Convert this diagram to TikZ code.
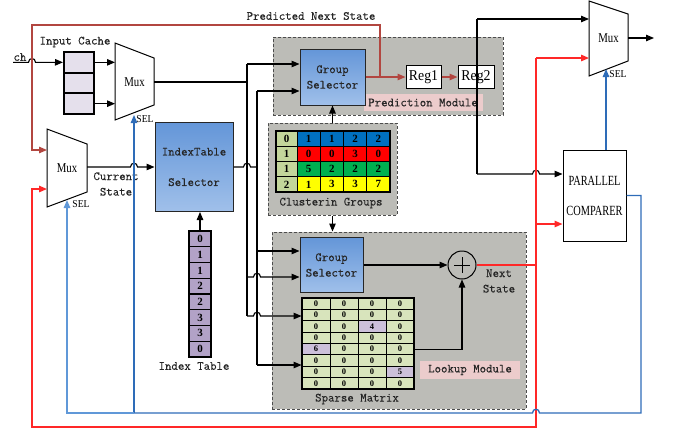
\documentclass[tikz,border=0pt]{standalone}
\usepackage{fontspec}
\setmainfont{Liberation Serif}
\newfontfamily\labelmono[FakeBold=0.35]{Latin Modern Mono}
\newfontfamily\narrowserif[FakeStretch=0.8]{Liberation Serif}
\newfontfamily\pcserif[FakeStretch=0.74]{Liberation Serif}
\newfontfamily\regserif[FakeStretch=0.92]{Liberation Serif}
\usetikzlibrary{arrows.meta}

\definecolor{gsTop}{RGB}{100,150,216}
\definecolor{gsBot}{RGB}{160,192,234}
\definecolor{panel}{RGB}{188,188,183}
\definecolor{tagpink}{RGB}{236,204,204}
\definecolor{predline}{RGB}{178,70,64}
\definecolor{nsred}{RGB}{255,40,40}
\definecolor{selblue}{RGB}{46,108,184}
\definecolor{selblueb}{RGB}{96,152,216}
\definecolor{cacheFill}{RGB}{229,224,236}
\definecolor{idxFill}{RGB}{178,162,199}
\definecolor{spFill}{RGB}{216,228,188}
\definecolor{spHi}{RGB}{204,192,218}
\definecolor{cgKey}{RGB}{195,214,155}
\definecolor{cgBlue}{RGB}{0,112,192}
\definecolor{cgRed}{RGB}{255,0,0}
\definecolor{cgGreen}{RGB}{0,176,80}
\definecolor{cgYellow}{RGB}{255,255,0}

\begin{document}
\begin{tikzpicture}[x=1pt,y=-1pt,
  wire/.style={draw=black,line width=1.1pt},
  predwire/.style={draw=predline,line width=1.3pt},
  redwire/.style={draw=nsred,line width=1.4pt},
  bluewire/.style={draw=selblue,line width=1.3pt},
  bluewireb/.style={draw=selblueb,line width=1.3pt},
  arrowhd/.style={-{Triangle[length=8pt,width=6.5pt]}},
  mono/.style={font=\fontsize{12.5}{15.5}\selectfont\labelmono,text=black!85},
  panelbox/.style={draw=black!70,dash pattern=on 3pt off 2pt,line width=1pt,fill=panel,inner sep=0pt},
  tagbox/.style={fill=tagpink,inner sep=0pt,mono},
  selbox/.style={draw=black!85,line width=1pt,top color=gsTop,bottom color=gsBot,inner sep=0pt,align=center,mono},
  regbox/.style={draw=black,line width=1pt,fill=white,inner sep=0pt,minimum width=35pt,minimum height=23pt,font=\fontsize{15}{17}\selectfont\regserif},
  muxshape/.style={draw=black,line width=1pt,fill=white},
  muxlbl/.style={font=\fontsize{13.5}{15}\selectfont\narrowserif,inner sep=0pt},
  sellbl/.style={font=\fontsize{10.5}{12}\selectfont\regserif,inner sep=0pt},
  cgcell/.style={draw=black,line width=1pt,inner sep=0pt,minimum height=15.25pt,font=\fontsize{11}{12}\selectfont\bfseries},
  spcell/.style={draw=black,line width=0.9pt,inner sep=0pt,minimum width=28pt,minimum height=11.375pt,font=\fontsize{8.5}{9}\selectfont\bfseries},
  ixcell/.style={draw=black,line width=1.4pt,fill=idxFill,inner sep=0pt,minimum width=22pt,minimum height=15.75pt,font=\fontsize{11}{12}\selectfont\bfseries},
  cachecell/.style={draw=black,line width=2pt,fill=cacheFill,inner sep=0pt,minimum width=30pt,minimum height=20.67pt},
  jumpover/.style 2 args={insert path={-- (#1-3.5,#2) .. controls (#1-3.5,#2-5) and (#1+3.5,#2-5) .. (#1+3.5,#2)}},
  jumpoverl/.style 2 args={insert path={-- (#1+3.5,#2) .. controls (#1+3.5,#2-5) and (#1-3.5,#2-5) .. (#1-3.5,#2)}},
]
\useasboundingbox (0,0) rectangle (675,429);

% ---------- module panels ----------
\node[panelbox,minimum width=230pt,minimum height=78pt] (predpanel) at (388,76) {};
\node[panelbox,minimum width=129pt,minimum height=92pt] (cgpanel) at (332.5,169) {};
\node[panelbox,minimum width=254pt,minimum height=177pt] (lookpanel) at (399,320.5) {};

\node[tagbox,minimum width=119pt,minimum height=17pt] (predtag) at (423,102.5) {Prediction Module};
\node[tagbox,minimum width=100pt,minimum height=18pt] (looktag) at (470,370) {Lookup Module};

% ---------- selectors and registers ----------
\node[selbox,minimum width=65pt,minimum height=56pt] (gsA) at (332.5,77) {Group\\Selector};
\node[selbox,minimum width=63pt,minimum height=55pt] (gsB) at (331.5,265) {Group\\Selector};
\node[selbox,minimum width=78pt,minimum height=89pt] (idxsel) at (194,167) {IndexTable\\[15pt]Selector};
\node[regbox] (reg1) at (423.5,77) {Reg1};
\node[regbox,minimum width=36pt] (reg2) at (476,77) {Reg2};
\node[draw=black,line width=1pt,fill=white,inner sep=0pt,minimum width=63pt,minimum height=91pt,align=center,font=\fontsize{14}{15}\selectfont\pcserif] (pc) at (594.5,195.5) {PARALLEL\\[15pt]COMPARER};
\node[draw=black,line width=1pt,circle,minimum size=28pt,inner sep=0pt] (plus) at (462,265) {};
\draw[line width=1pt] (plus.center) ++(-8,0) -- ++(16,0) (plus.center) ++(0,-8) -- ++(0,16);

% ---------- multiplexers ----------
\draw[muxshape] (115,43) -- (154,58) -- (154,105) -- (115,120) -- cycle;
\node[muxlbl] (muxA) at (134.5,82) {Mux};
\coordinate (muxA-in) at (115,82);
\coordinate (muxA-out) at (154,82);
\coordinate (muxA-sel) at (134,115);
\node[sellbl] (selA) at (145,119) {SEL};

\draw[muxshape] (47,129) -- (87,144) -- (87,192) -- (47,207) -- cycle;
\node[muxlbl] (muxB) at (67,168) {Mux};
\coordinate (muxB-in1) at (47,150);
\coordinate (muxB-in2) at (47,189);
\coordinate (muxB-out) at (87,167);
\coordinate (muxB-sel) at (67,200);
\node[sellbl] (selB) at (81,204) {SEL};

\draw[muxshape] (589,1) -- (628,14) -- (628,61) -- (589,76) -- cycle;
\node[muxlbl] (muxC) at (608.5,38) {Mux};
\coordinate (muxC-in1) at (589,19);
\coordinate (muxC-in2) at (589,58);
\coordinate (muxC-out) at (628,38);
\coordinate (muxC-sel) at (606,69);
\coordinate (outC) at (654,38);
\node[sellbl] (selC) at (618,74) {SEL};

% ---------- input cache ----------
\foreach \i in {1,2,3}
  \node[cachecell] (cc-\i) at (79,{52+20.67*(\i-0.5)}) {};
\node[mono,inner sep=0pt] (cachelbl) at (75,42) {Input Cache};
\node[mono,inner sep=0pt] (chlbl) at (20,57) {ch};

% ---------- index table ----------
\foreach \v [count=\i] in {0,1,1,2,2,3,3,0}
  \node[ixcell] (ix-\i) at (200,{231+15.75*(\i-0.5)}) {\v};
\node[mono,inner sep=0pt] (ixlbl) at (194,366) {Index Table};

% ---------- clustering groups ----------
\foreach \r/\k/\a/\b/\c/\d/\col in {1/0/1/1/2/2/cgBlue,2/1/0/0/3/0/cgRed,3/1/5/2/2/2/cgGreen,4/2/1/3/3/7/cgYellow}{
  \node[cgcell,fill=cgKey,minimum width=21pt] (cg-\r-0) at (286.5,{131+15.25*(\r-0.5)}) {\k};
  \foreach \v [count=\j] in {\a,\b,\c,\d}
    \node[cgcell,fill=\col,minimum width=23.25pt] (cg-\r-\j) at ({297+23.25*(\j-0.5)},{131+15.25*(\r-0.5)}) {\v};
}
\draw[line width=1.6pt] (276,131) rectangle (390,192);
\node[mono,inner sep=0pt] (cglbl) at (331,203) {Clusterin Groups};

% ---------- sparse matrix ----------
\foreach \r/\vals in {1/{0,0,0,0},2/{0,0,0,0},3/{0,0,4,0},4/{0,0,0,0},5/{6,0,0,0},6/{0,0,0,0},7/{0,0,0,5},8/{0,0,0,0}}{
  \foreach \v [count=\c] in \vals {
    \ifnum\v=0 \def\cellcol{spFill}\else\def\cellcol{spHi}\fi
    \node[spcell,fill=\cellcol] (sp-\r-\c) at ({302+28*(\c-0.5)},{298+11.375*(\r-0.5)}) {\v};
  }
}
\draw[line width=1.5pt] (302,298) rectangle (414,389);
\node[mono,inner sep=0pt] (splbl) at (357,399) {Sparse Matrix};

% ---------- texts ----------
\node[mono,inner sep=0pt] (predlbl) at (311,16) {Predicted Next State};
\node[mono,inner sep=0pt,align=center] (curlbl) at (116,184) {Current\\State};
\node[mono,inner sep=0pt,align=center] (nextlbl) at (499,281) {Next\\State};

% ---------- black data wires ----------
\coordinate (chin) at (13,62.3);
\draw[wire,arrowhd] (chin) [jumpover={32}{62.3}] -- (cc-1.west);
\draw[wire,arrowhd] (cc-1.east) -- (cc-1.east -| muxA-in);
\draw[wire,arrowhd] (cc-3.east) -- (cc-3.east -| muxA-in);

% current character bus
\coordinate (busA) at (247,82);
\draw[wire] (muxA-out) -- (busA);
\draw[wire] (247,64) -- (247,316);
\draw[wire,arrowhd] (247,64) -- (gsA.west |- 247,64);
\draw[wire,arrowhd] (247,277) [jumpover={257}{277}] -- (gsB.west |- 247,277);
\draw[wire,arrowhd] (247,316) [jumpover={257}{316}] -- (sp-2-1.west |- 247,316);

% index bus
\coordinate (busB) at (257,167);
\draw[wire] (idxsel.east) [jumpover={247}{167}] -- (busB);
\draw[wire] (257,91) -- (257,365);
\draw[wire,arrowhd] (257,91) -- (gsA.west |- 257,91);
\draw[wire,arrowhd] (257,251) -- (gsB.west |- 257,251);
\draw[wire,arrowhd] (257,365) -- (sp-7-1.west |- 257,365);

\draw[wire,arrowhd] (cgpanel.north) -- (gsA.south);
\draw[wire,arrowhd] (cgpanel.south) -- (cgpanel.south |- lookpanel.north);
\draw[wire,arrowhd] (ix-1.north) -- (ix-1.north |- idxsel.south);
\draw[wire,arrowhd] (muxB-out) [jumpover={134}{167}] -- (idxsel.west);

\draw[wire,arrowhd] (gsB.east) -- (plus.west);
\draw[wire,arrowhd] (sp-5-4.east) -- (sp-5-4.east -| plus.south) -- (plus.south);

% prediction path
\coordinate (predtap) at (380,77);
\draw[predwire,arrowhd] (gsA.east) -- (reg1.west);
\draw[predwire,arrowhd] (reg1.east) -- (reg2.west);
\draw[predwire,arrowhd] (predtap) -- (380,25) -- (32,25) -- (32,150) -- (muxB-in1);

% register output
\draw[wire] (477,19) -- (477,174);
\draw[wire,arrowhd] (477,19) -- (muxC-in1);
\draw[wire,arrowhd] (477,174) [jumpover={536}{174}] -- (pc.west |- 477,174);
\draw[wire,arrowhd] (muxC-out) -- (outC);

% next state
\draw[redwire] (plus.east) -- (536,265);
\draw[redwire,arrowhd] (536,58) -- (muxC-in2);
\draw[redwire,arrowhd] (536,224) -- (pc.west |- 536,224);
\draw[redwire,arrowhd] (536,58) -- (536,427) -- (32,427) -- (32,189) -- (muxB-in2);

% select lines
\draw[bluewire,arrowhd] (pc.north -| muxC-sel) -- (muxC-sel);
\draw[bluewire] (pc.east) -- (641,195.5) -- (641,413) [jumpoverl={536}{413}] -- (134,413);
\draw[bluewire,arrowhd] (134,413) -- (muxA-sel);
\draw[bluewireb,arrowhd] (134,413) -- (67,413) -- (muxB-sel);
\end{tikzpicture}
\end{document}
